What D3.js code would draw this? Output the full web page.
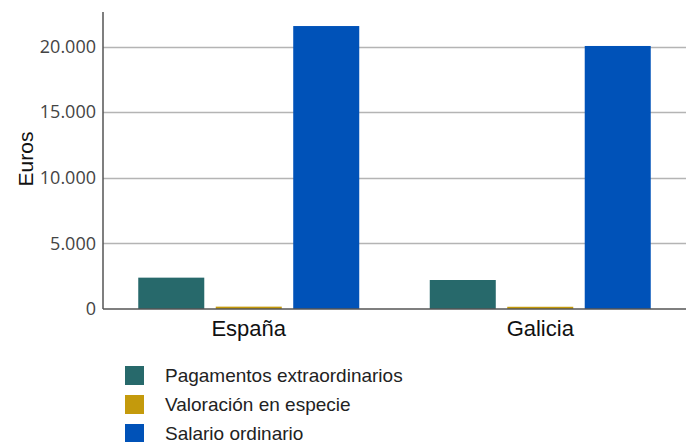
<!DOCTYPE html>
<html><head><meta charset="utf-8">
<script src="https://cdn.jsdelivr.net/npm/d3@7"></script>
<style>body{margin:0;background:#fff}svg{display:block;font-family:"Liberation Sans",Arial,sans-serif}</style>
</head><body><svg id="c" width="687" height="442"></svg>
<script>
const categories = ["España", "Galicia"];
const seriesNames = ["Pagamentos extraordinarios", "Valoración en especie", "Salario ordinario"];
const pagamentos = [2390, 2210];
const valoracion = [180, 170];
const salario = [21570, 20050];
const yTicks = [0, 5000, 10000, 15000, 20000];
const colors = ["#27696b", "#c49a0c", "#0052b8"];

const series = [pagamentos, valoracion, salario];
const svg = d3.select("#c");
const m = {l: 103, r: 686, t: 12, b: 309};
const x0 = d3.scaleBand().domain(categories).range([m.l, m.r]).paddingInner(0).paddingOuter(0);
const x1 = d3.scaleBand().domain(seriesNames).range([0, x0.bandwidth()]).paddingInner(0.148).paddingOuter(0.455);
const y = d3.scaleLinear().domain([0, 22640]).range([m.b, m.t]);
const fmt = v => d3.format(",")(v).replace(/,/g, ".");

// grid
svg.append("g").selectAll("line").data(yTicks.filter(d => d > 0)).join("line")
  .attr("x1", m.l).attr("x2", m.r).attr("y1", d => Math.round(y(d)) + 0.5).attr("y2", d => Math.round(y(d)) + 0.5)
  .attr("stroke", "#b4b4b4").attr("stroke-width", 1.5);

// bars
categories.forEach((c, ci) => {
  svg.append("g").selectAll("rect").data(seriesNames).join("rect")
    .attr("x", s => x0(c) + x1(s))
    .attr("width", x1.bandwidth())
    .attr("y", (s, si) => y(series[si][ci]))
    .attr("height", (s, si) => m.b - y(series[si][ci]))
    .attr("fill", (s, si) => colors[si]);
});

// y axis
const ya = svg.append("g").attr("transform", `translate(${m.l},0)`)
  .call(d3.axisLeft(y).tickValues(yTicks).tickFormat(fmt).tickSize(0).tickPadding(7));
ya.select(".domain").remove();
ya.selectAll("text").attr("font-size", 18).attr("fill", "#444").attr("font-family", "'Open Sans',sans-serif");
svg.append("line").attr("x1", m.l).attr("x2", m.l).attr("y1", m.t).attr("y2", m.b).attr("stroke", "#555").attr("stroke-width", 1.5);
svg.append("line").attr("x1", m.l).attr("x2", m.r).attr("y1", m.b).attr("y2", m.b).attr("stroke", "#555").attr("stroke-width", 1.5);

// x axis labels
const xa = svg.append("g").attr("transform", `translate(0,${m.b})`)
  .call(d3.axisBottom(x0).tickSize(0).tickPadding(0));
xa.select(".domain").remove();
xa.selectAll("text").attr("font-size", 22).attr("fill", "#111").attr("dy", null).attr("y", 27)
  .attr("font-family", "'Liberation Sans',Arial,sans-serif");

// y title
svg.append("text").attr("transform", "translate(33,159) rotate(-90)").attr("text-anchor", "middle")
  .attr("font-size", 21).attr("fill", "#111").text("Euros");

// legend
const lg = svg.append("g").selectAll("g").data(seriesNames).join("g")
  .attr("transform", (d, i) => `translate(125,${366 + i * 29})`);
lg.append("rect").attr("width", 19).attr("height", 19).attr("fill", (d, i) => colors[i]);
lg.append("text").attr("x", 40).attr("y", 16).attr("font-size", 19)
  .attr("fill", "#222").text(d => d);
</script></body></html>
